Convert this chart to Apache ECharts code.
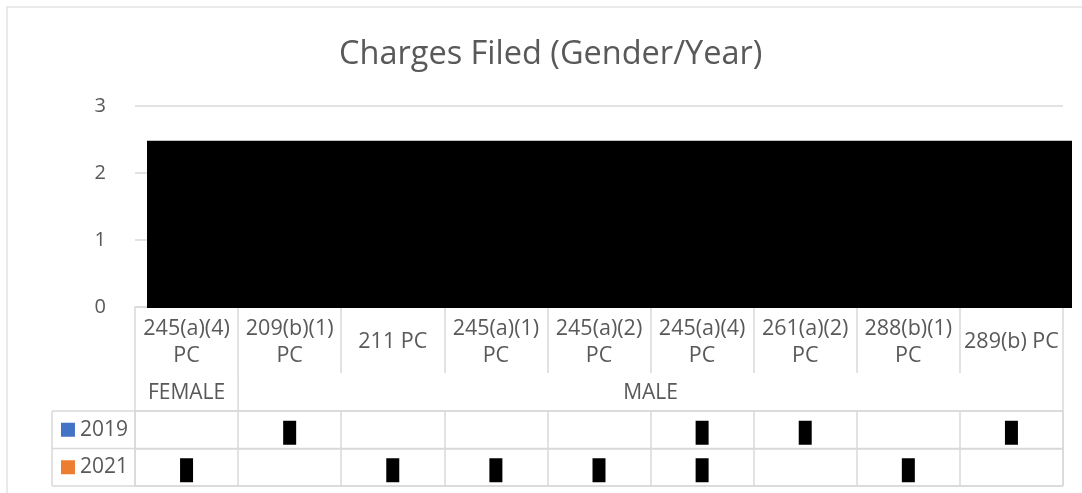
<!DOCTYPE html>
<html>
<head>
<meta charset="utf-8">
<script src="https://cdn.jsdelivr.net/npm/echarts@6/dist/echarts.min.js"></script>
<style>
html, body { margin: 0; padding: 0; background: #fff; }
#chart { width: 1082px; height: 493px; }
</style>
</head>
<body>
<div id="chart"></div>
<script>
var categories = ['245(a)(4)\nPC', '209(b)(1)\nPC', '211 PC', '245(a)(1)\nPC', '245(a)(2)\nPC',
    '245(a)(4)\nPC', '261(a)(2)\nPC', '288(b)(1)\nPC', '289(b) PC'];
var genders = ['FEMALE', 'MALE'];
var genderSpans = [1, 8];
var years = ['2019', '2021'];
var yearColors = ['#4472C4', '#ED7D31'];
// the numbers are blacked out in the picture, a filled cell is taken as 1
var values2019 = [null, 1, null, null, null, 1, 1, null, 1];
var values2021 = [1, null, 1, 1, 1, 1, null, 1, null];
var yMin = 0, yMax = 3, yStep = 1;
var redactTop = 2.48;   // top of the black box over the plot

var lineColor = '#d9d9d9';
var textColor = '#595959';
var font = 'Open Sans';
var labelRowH = 66;

var allValues = [values2019, values2021];
var cellMarks = [];
allValues.forEach(function (vals, r) {
    vals.forEach(function (v, i) {
        if (v != null) cellMarks.push([i, r]);
    });
});

var chart = echarts.init(document.getElementById('chart'));
chart.setOption({
    animation: false,
    title: {
        text: 'Charges Filed (Gender/Year)',
        left: 334,
        top: 33,
        textStyle: { fontFamily: font, fontSize: 32.5, fontWeight: 'normal', color: textColor }
    },
    grid: [
        { left: 135, right: 19, top: 106, bottom: 186 },
        { left: 135, right: 19, top: 411, height: 75 }
    ],
    xAxis: [
        {
            type: 'category',
            gridIndex: 0,
            data: categories,
            axisLine: { lineStyle: { color: lineColor, width: 1.5 } },
            axisTick: { show: true, length: labelRowH, lineStyle: { color: lineColor, width: 1.5 } },
            axisLabel: {
                interval: 0, margin: 35, verticalAlign: 'middle', lineHeight: 27,
                fontFamily: font, fontSize: 21.5, color: textColor
            }
        },
        {
            type: 'category',
            gridIndex: 1,
            data: categories,
            axisLine: { show: false },
            axisTick: { show: false },
            axisLabel: { show: false },
            splitLine: { show: true, lineStyle: { color: lineColor, width: 1.5 } }
        }
    ],
    yAxis: [
        {
            type: 'value',
            gridIndex: 0,
            min: yMin, max: yMax, interval: yStep,
            axisLine: { show: false },
            axisTick: { show: false },
            axisLabel: { margin: 29, fontFamily: font, fontSize: 20, color: textColor },
            splitLine: { lineStyle: { color: lineColor, width: 1.5 } }
        },
        {
            type: 'category',
            gridIndex: 1,
            data: years,
            inverse: true,
            axisLine: { show: false },
            axisTick: { show: false },
            splitLine: { show: true, lineStyle: { color: lineColor, width: 1.5 } },
            axisLabel: {
                margin: 7,
                formatter: function (val, idx) { return '{k' + idx + '|}{t|' + val + '}'; },
                rich: {
                    k0: { width: 14, height: 14, backgroundColor: yearColors[0] },
                    k1: { width: 14, height: 14, backgroundColor: yearColors[1] },
                    t: { fontFamily: font, fontSize: 21, color: textColor, padding: [0, 0, 0, 5] }
                }
            }
        }
    ],
    series: [
        { name: years[0], type: 'bar', xAxisIndex: 0, yAxisIndex: 0, data: values2019, itemStyle: { color: yearColors[0] } },
        { name: years[1], type: 'bar', xAxisIndex: 0, yAxisIndex: 0, data: values2021, itemStyle: { color: yearColors[1] } },
        {
            name: 'table',
            type: 'scatter',
            xAxisIndex: 1, yAxisIndex: 1,
            data: cellMarks,
            symbol: 'rect',
            symbolSize: [13, 24],
            symbolOffset: [0, 3],
            itemStyle: { color: '#000', opacity: 1 },
            z: 10
        }
    ]
});

// table frame, gender row and the black box, placed from the axes
var c0 = chart.convertToPixel({ xAxisIndex: 0 }, 0);
var c1 = chart.convertToPixel({ xAxisIndex: 0 }, 1);
var band = c1 - c0;
var left = c0 - band / 2;
var right = left + band * categories.length;
var y0 = chart.convertToPixel({ yAxisIndex: 0 }, yMin);
var yTop = chart.convertToPixel({ yAxisIndex: 0 }, redactTop);
var r0 = chart.convertToPixel({ yAxisIndex: 1 }, 0);
var r1 = chart.convertToPixel({ yAxisIndex: 1 }, 1);
var rowH = r1 - r0;
var tableTop = r0 - rowH / 2;
var genderTop = y0 + labelRowH;
var tableLeft = 52;

var lineStyle = { stroke: lineColor, lineWidth: 1.5 };
var g = [];
g.push({ type: 'rect', silent: true, z: 1, shape: { x: 7, y: 7, width: 1100, height: 520 }, style: { fill: null, stroke: '#e3e3e3', lineWidth: 1.5 } });
g.push({ type: 'rect', silent: true, z: 100, shape: { x: left + 12, y: yTop, width: right + 9 - left - 12, height: y0 + 1 - yTop }, style: { fill: '#000' } });

var pos = 0;
g.push({ type: 'line', silent: true, shape: { x1: left, y1: genderTop, x2: left, y2: tableTop }, style: lineStyle });
genders.forEach(function (name, k) {
    var cx = left + band * (pos + genderSpans[k] / 2);
    g.push({
        type: 'text', silent: true, x: cx, y: (genderTop + tableTop) / 2 + 1,
        style: { text: name, fontFamily: font, fontSize: 21, fill: textColor, align: 'center', verticalAlign: 'middle' }
    });
    pos += genderSpans[k];
    var bx = left + band * pos;
    g.push({ type: 'line', silent: true, shape: { x1: bx, y1: genderTop, x2: bx, y2: tableTop }, style: lineStyle });
});

for (var k = 0; k <= years.length; k++) {
    var yy = tableTop + k * rowH;
    g.push({ type: 'line', silent: true, shape: { x1: tableLeft, y1: yy, x2: right, y2: yy }, style: lineStyle });
}
g.push({ type: 'line', silent: true, shape: { x1: tableLeft, y1: tableTop, x2: tableLeft, y2: tableTop + years.length * rowH }, style: lineStyle });
g.push({ type: 'line', silent: true, shape: { x1: left, y1: tableTop, x2: left, y2: tableTop + years.length * rowH }, style: lineStyle });
g.push({ type: 'line', silent: true, shape: { x1: right, y1: tableTop, x2: right, y2: tableTop + years.length * rowH }, style: lineStyle });

chart.setOption({ graphic: g });
</script>
</body>
</html>
